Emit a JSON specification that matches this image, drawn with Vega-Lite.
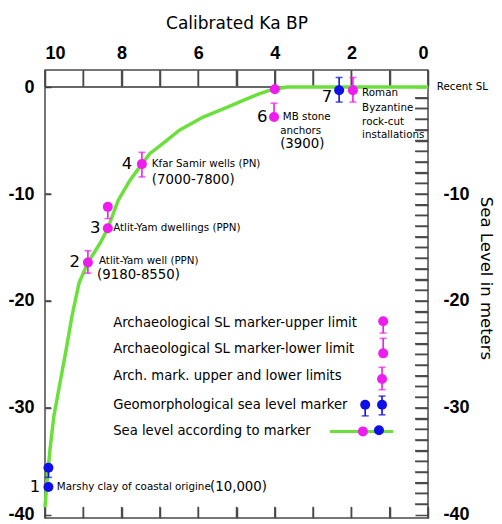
{
  "$schema": "https://vega.github.io/schema/vega-lite/v6.json",
  "autosize": {"type": "none"},
  "width": 383,
  "height": 448,
  "padding": {"left": 45, "top": 70, "right": 74, "bottom": 6},
  "background": "white",
  "config": {
    "view": {"stroke": "#4a4a4a", "strokeWidth": 1.5},
    "axis": {"grid": false, "domain": false, "labelColor": "black", "titleColor": "black"}
  },
  "datasets": {
    "frameTicks": [
      {"side": "top", "ka": 0, "sl": 0.84}, {"side": "top", "ka": 1, "sl": 0.84}, {"side": "top", "ka": 2, "sl": 0.84}, {"side": "top", "ka": 3, "sl": 0.84},
      {"side": "top", "ka": 4, "sl": 0.84}, {"side": "top", "ka": 5, "sl": 0.84}, {"side": "top", "ka": 6, "sl": 0.84}, {"side": "top", "ka": 7, "sl": 0.84},
      {"side": "top", "ka": 8, "sl": 0.84}, {"side": "top", "ka": 9, "sl": 0.84}, {"side": "top", "ka": 10, "sl": 0.84},
      {"side": "bottom", "ka": 0, "sl": -39.77}, {"side": "bottom", "ka": 1, "sl": -39.77}, {"side": "bottom", "ka": 2, "sl": -39.77}, {"side": "bottom", "ka": 3, "sl": -39.77},
      {"side": "bottom", "ka": 4, "sl": -39.77}, {"side": "bottom", "ka": 5, "sl": -39.77}, {"side": "bottom", "ka": 6, "sl": -39.77}, {"side": "bottom", "ka": 7, "sl": -39.77},
      {"side": "bottom", "ka": 8, "sl": -39.77}, {"side": "bottom", "ka": 9, "sl": -39.77}, {"side": "bottom", "ka": 10, "sl": -39.77},
      {"side": "left", "ka": 9.92, "sl": -10}, {"side": "left", "ka": 9.92, "sl": -20}, {"side": "left", "ka": 9.92, "sl": -30},
      {"side": "right", "ka": 0.17, "sl": -1}, {"side": "right", "ka": 0.17, "sl": -2}, {"side": "right", "ka": 0.17, "sl": -3}, {"side": "right", "ka": 0.17, "sl": -4},
      {"side": "right", "ka": 0.17, "sl": -5}, {"side": "right", "ka": 0.17, "sl": -6}, {"side": "right", "ka": 0.17, "sl": -7}, {"side": "right", "ka": 0.17, "sl": -8},
      {"side": "right", "ka": 0.17, "sl": -9}, {"side": "right", "ka": 0.17, "sl": -10}, {"side": "right", "ka": 0.17, "sl": -11}, {"side": "right", "ka": 0.17, "sl": -12},
      {"side": "right", "ka": 0.17, "sl": -13}, {"side": "right", "ka": 0.17, "sl": -14}, {"side": "right", "ka": 0.17, "sl": -15}, {"side": "right", "ka": 0.17, "sl": -16},
      {"side": "right", "ka": 0.17, "sl": -17}, {"side": "right", "ka": 0.17, "sl": -18}, {"side": "right", "ka": 0.17, "sl": -19}, {"side": "right", "ka": 0.17, "sl": -20},
      {"side": "right", "ka": 0.17, "sl": -21}, {"side": "right", "ka": 0.17, "sl": -22}, {"side": "right", "ka": 0.17, "sl": -23}, {"side": "right", "ka": 0.17, "sl": -24},
      {"side": "right", "ka": 0.17, "sl": -25}, {"side": "right", "ka": 0.17, "sl": -26}, {"side": "right", "ka": 0.17, "sl": -27}, {"side": "right", "ka": 0.17, "sl": -28},
      {"side": "right", "ka": 0.17, "sl": -29}, {"side": "right", "ka": 0.17, "sl": -30}, {"side": "right", "ka": 0.17, "sl": -31}, {"side": "right", "ka": 0.17, "sl": -32},
      {"side": "right", "ka": 0.17, "sl": -33}, {"side": "right", "ka": 0.17, "sl": -34}, {"side": "right", "ka": 0.17, "sl": -35}, {"side": "right", "ka": 0.17, "sl": -36},
      {"side": "right", "ka": 0.17, "sl": -37}, {"side": "right", "ka": 0.17, "sl": -38}, {"side": "right", "ka": 0.17, "sl": -39}
    ],
    "curve": [
      {"ka": 10.0, "sl": -39.3}, {"ka": 9.95, "sl": -37.0}, {"ka": 9.87, "sl": -33.9}, {"ka": 9.77, "sl": -30.8},
      {"ka": 9.61, "sl": -27.7}, {"ka": 9.45, "sl": -24.6}, {"ka": 9.30, "sl": -21.5}, {"ka": 9.11, "sl": -18.3},
      {"ka": 8.88, "sl": -16.4}, {"ka": 8.56, "sl": -14.6}, {"ka": 8.36, "sl": -13.2}, {"ka": 8.09, "sl": -10.6},
      {"ka": 7.78, "sl": -8.7}, {"ka": 7.47, "sl": -7.2}, {"ka": 7.26, "sl": -6.2}, {"ka": 7.0, "sl": -5.5},
      {"ka": 6.48, "sl": -4.0}, {"ka": 5.87, "sl": -2.8}, {"ka": 5.25, "sl": -1.9}, {"ka": 4.73, "sl": -1.1},
      {"ka": 4.39, "sl": -0.6}, {"ka": 4.18, "sl": -0.35}, {"ka": 4.0, "sl": -0.2}, {"ka": 3.68, "sl": 0},
      {"ka": 0, "sl": 0}
    ],
    "keyline": [{"ka": 2.56, "sl": -32.2}, {"ka": 0.91, "sl": -32.2}],
    "zero": [{"ka": 10, "ka2": 0, "sl": 0}],
    "pts": [
      {"ka": 9.91, "sl": -37.4, "kind": "geo"},
      {"ka": 9.91, "sl": -35.6, "kind": "geo"},
      {"ka": 8.88, "sl": -16.4, "kind": "arch"},
      {"ka": 8.36, "sl": -13.2, "kind": "arch"},
      {"ka": 8.36, "sl": -11.2, "kind": "arch"},
      {"ka": 7.47, "sl": -7.2, "kind": "arch"},
      {"ka": 4.0, "sl": -0.2, "kind": "arch"},
      {"ka": 4.02, "sl": -2.8, "kind": "arch"},
      {"ka": 2.32, "sl": -0.3, "kind": "geo"},
      {"ka": 1.96, "sl": -0.3, "kind": "arch"},
      {"ka": 1.17, "sl": -21.9, "kind": "arch"},
      {"ka": 1.17, "sl": -24.9, "kind": "arch"},
      {"ka": 1.2, "sl": -27.3, "kind": "arch"},
      {"ka": 1.64, "sl": -29.7, "kind": "geo"},
      {"ka": 1.2, "sl": -29.7, "kind": "geo"},
      {"ka": 1.7, "sl": -32.2, "kind": "arch"},
      {"ka": 1.28, "sl": -32.1, "kind": "geo"}
    ],
    "errbars": [
      {"ka": 9.91, "sl": -35.6, "to": -36.5, "kind": "geo"},
      {"ka": 8.88, "sl": -16.4, "to": -15.3, "kind": "arch"},
      {"ka": 8.88, "sl": -16.4, "to": -17.4, "kind": "arch"},
      {"ka": 8.36, "sl": -11.2, "to": -12.3, "kind": "arch"},
      {"ka": 7.47, "sl": -7.2, "to": -6.1, "kind": "arch"},
      {"ka": 7.47, "sl": -7.2, "to": -8.4, "kind": "arch"},
      {"ka": 4.02, "sl": -2.8, "to": -1.5, "kind": "arch"},
      {"ka": 2.32, "sl": -0.3, "to": 0.9, "kind": "geo"},
      {"ka": 2.32, "sl": -0.3, "to": -1.4, "kind": "geo"},
      {"ka": 1.96, "sl": -0.3, "to": 0.9, "kind": "arch"},
      {"ka": 1.96, "sl": -0.3, "to": -1.4, "kind": "arch"},
      {"ka": 1.17, "sl": -21.9, "to": -23.0, "kind": "arch"},
      {"ka": 1.17, "sl": -24.9, "to": -23.5, "kind": "arch"},
      {"ka": 1.2, "sl": -27.3, "to": -26.2, "kind": "arch"},
      {"ka": 1.2, "sl": -27.3, "to": -28.3, "kind": "arch"},
      {"ka": 1.64, "sl": -29.7, "to": -30.75, "kind": "geo"},
      {"ka": 1.2, "sl": -29.7, "to": -28.9, "kind": "geo"},
      {"ka": 1.2, "sl": -29.7, "to": -30.65, "kind": "geo"}
    ],
    "notes": [
      {"t": "1", "ka": 10.26, "sl": -37.4, "role": "num"},
      {"t": "2", "ka": 9.22, "sl": -16.4, "role": "num"},
      {"t": "3", "ka": 8.69, "sl": -13.2, "role": "num"},
      {"t": "4", "ka": 7.86, "sl": -7.2, "role": "num"},
      {"t": "6", "ka": 4.33, "sl": -2.8, "role": "num"},
      {"t": "7", "ka": 2.64, "sl": -0.9, "role": "num"},
      {"t": "Marshy clay of coastal origine", "ka": 9.69, "sl": -37.4, "role": "small"},
      {"t": "Atlit-Yam well (PPN)", "ka": 8.59, "sl": -16.3, "role": "small"},
      {"t": "Atlit-Yam dwellings (PPN)", "ka": 8.22, "sl": -13.2, "role": "small"},
      {"t": "Kfar Samir wells (PN)", "ka": 7.21, "sl": -7.2, "role": "small"},
      {"t": "MB stone", "ka": 3.79, "sl": -2.8, "role": "small"},
      {"t": "anchors", "ka": 3.86, "sl": -4.1, "role": "small"},
      {"t": "Roman", "ka": 1.72, "sl": -0.56, "role": "small"},
      {"t": "Byzantine", "ka": 1.72, "sl": -1.96, "role": "small"},
      {"t": "rock-cut", "ka": 1.72, "sl": -3.27, "role": "small"},
      {"t": "installations", "ka": 1.72, "sl": -4.49, "role": "small"},
      {"t": "Recent SL", "ka": -0.23, "sl": 0.05, "role": "small"},
      {"t": "(10,000)", "ka": 5.69, "sl": -37.4, "role": "paren"},
      {"t": "(9180-8550)", "ka": 8.64, "sl": -17.6, "role": "paren"},
      {"t": "(7000-7800)", "ka": 7.21, "sl": -8.7, "role": "paren"},
      {"t": "(3900)", "ka": 3.86, "sl": -5.3, "role": "paren"},
      {"t": "Archaeological SL marker-upper limit", "ka": 8.22, "sl": -22.06, "role": "legend"},
      {"t": "Archaeological SL marker-lower limit", "ka": 8.22, "sl": -24.49, "role": "legend"},
      {"t": "Arch. mark. upper and lower limits", "ka": 8.22, "sl": -27.01, "role": "legend"},
      {"t": "Geomorphological sea level marker", "ka": 8.22, "sl": -29.72, "role": "legend"},
      {"t": "Sea level according to marker", "ka": 8.22, "sl": -32.15, "role": "legend"}
    ]
  },
  "encoding": {
    "x": {"field": "ka", "type": "quantitative", "scale": {"domain": [0, 10], "reverse": true, "nice": false, "zero": false}, "axis": null},
    "y": {"field": "sl", "type": "quantitative", "scale": {"domain": [-40.3, 1.6], "nice": false, "zero": false}, "axis": null}
  },
  "layer": [
    {
      "data": {"name": "frameTicks"},
      "transform": [{"filter": "datum.side == 'top'"}],
      "mark": {"type": "tick", "orient": "vertical", "size": 16, "thickness": 1.5, "color": "#4a4a4a", "opacity": 1}
    },
    {
      "data": {"name": "frameTicks"},
      "transform": [{"filter": "datum.side == 'bottom'"}],
      "mark": {"type": "tick", "orient": "vertical", "size": 11, "thickness": 1.5, "color": "#4a4a4a", "opacity": 1}
    },
    {
      "data": {"name": "frameTicks"},
      "transform": [{"filter": "datum.side == 'right'"}],
      "mark": {"type": "tick", "orient": "horizontal", "size": 13, "thickness": 1.5, "color": "#4a4a4a", "opacity": 1}
    },
    {
      "data": {"name": "frameTicks"},
      "transform": [{"filter": "datum.side == 'left'"}],
      "mark": {"type": "tick", "orient": "horizontal", "size": 6, "thickness": 1.5, "color": "#4a4a4a", "opacity": 1}
    },
    {
      "data": {"name": "zero"},
      "mark": {"type": "rule", "color": "#333333", "strokeWidth": 1.5},
      "encoding": {"x2": {"field": "ka2"}}
    },
    {
      "data": {"name": "curve"},
      "mark": {"type": "line", "color": "#6be03c", "strokeWidth": 3.5, "interpolate": "linear"},
      "encoding": {
        "x": {"field": "ka", "type": "quantitative", "scale": {"domain": [0, 10], "reverse": true, "nice": false, "zero": false},
          "axis": {"orient": "top", "values": [0, 1, 2, 3, 4, 5, 6, 7, 8, 9, 10], "labelExpr": "datum.value % 2 == 0 ? datum.label : ''",
            "ticks": true, "tickColor": "#4a4a4a", "tickWidth": 1.5, "tickOpacity": 1,
            "offset": -16, "tickSize": 16, "labelPadding": 8, "labelFont": "Liberation Sans", "labelFontWeight": "bold", "labelFontSize": 18,
            "title": "Calibrated Ka BP", "titleFont": "DejaVu Sans", "titleFontSize": 17, "titleFontWeight": "normal", "titlePadding": 12}},
        "y": {"field": "sl", "type": "quantitative", "scale": {"domain": [-40.3, 1.6], "nice": false, "zero": false},
          "axis": {"orient": "left", "values": [0, -10, -20, -30, -40], "labelExpr": "'' + datum.value",
            "ticks": true, "tickColor": "#4a4a4a", "tickWidth": 1.5, "tickOpacity": 1,
            "offset": -6, "tickSize": 6, "labelPadding": 11,
            "labelFont": "Liberation Sans", "labelFontWeight": "bold", "labelFontSize": 18, "title": null}}
      }
    },
    {
      "data": {"name": "keyline"},
      "mark": {"type": "line", "color": "#6be03c", "strokeWidth": 3},
      "encoding": {}
    },
    {
      "data": {"name": "errbars"},
      "mark": {"type": "rule", "strokeWidth": 1.6},
      "encoding": {
        "y2": {"field": "to"},
        "color": {"field": "kind", "type": "nominal", "scale": {"domain": ["arch", "geo"], "range": ["#ef1cef", "#1010e6"]}, "legend": null}
      }
    },
    {
      "data": {"name": "errbars"},
      "mark": {"type": "tick", "orient": "horizontal", "size": 7, "thickness": 1.6},
      "encoding": {
        "y": {"field": "to", "type": "quantitative", "scale": {"domain": [-40.3, 1.6], "nice": false, "zero": false}, "axis": null},
        "color": {"field": "kind", "type": "nominal", "scale": {"domain": ["arch", "geo"], "range": ["#ef1cef", "#1010e6"]}, "legend": null}
      }
    },
    {
      "data": {"name": "pts"},
      "mark": {"type": "circle", "size": 100, "opacity": 1},
      "encoding": {
        "x": {"field": "ka", "type": "quantitative", "scale": {"domain": [0, 10], "reverse": true, "nice": false, "zero": false},
          "axis": {"orient": "bottom", "values": [0, 1, 2, 3, 4, 5, 6, 7, 8, 9, 10],
            "ticks": true, "tickColor": "#4a4a4a", "tickWidth": 1.5, "tickOpacity": 1,
            "offset": -11, "tickSize": 11, "labels": false, "title": null}},
        "y": {"field": "sl", "type": "quantitative", "scale": {"domain": [-40.3, 1.6], "nice": false, "zero": false},
          "axis": {"orient": "right", "values": [0, -1, -2, -3, -4, -5, -6, -7, -8, -9, -10, -11, -12, -13, -14, -15, -16, -17, -18, -19, -20, -21, -22, -23, -24, -25, -26, -27, -28, -29, -30, -31, -32, -33, -34, -35, -36, -37, -38, -39, -40],
            "labelExpr": "datum.value % 10 == 0 && datum.value != 0 ? '' + datum.value : ''",
            "ticks": true, "tickColor": "#4a4a4a", "tickWidth": 1.5, "tickOpacity": 1,
            "offset": -13, "tickSize": 13, "labelPadding": 15, "labelFont": "Liberation Sans", "labelFontWeight": "bold", "labelFontSize": 18,
            "title": "Sea Level in meters", "titleFont": "DejaVu Sans", "titleFontSize": 16.5, "titleFontWeight": "normal", "titlePadding": 8, "titleY": 208}},
        "color": {"field": "kind", "type": "nominal", "scale": {"domain": ["arch", "geo"], "range": ["#ef1cef", "#1010e6"]}, "legend": null}
      }
    },
    {
      "data": {"name": "notes"},
      "transform": [{"filter": "datum.role == 'num'"}],
      "mark": {"type": "text", "font": "DejaVu Sans", "fontSize": 16.5, "align": "center", "baseline": "middle", "color": "black"},
      "encoding": {"text": {"field": "t"}}
    },
    {
      "data": {"name": "notes"},
      "transform": [{"filter": "datum.role == 'small'"}],
      "mark": {"type": "text", "font": "DejaVu Sans", "fontSize": 10.3, "align": "left", "baseline": "middle", "color": "black"},
      "encoding": {"text": {"field": "t"}}
    },
    {
      "data": {"name": "notes"},
      "transform": [{"filter": "datum.role == 'paren'"}],
      "mark": {"type": "text", "font": "DejaVu Sans", "fontSize": 13.3, "align": "left", "baseline": "middle", "color": "black"},
      "encoding": {"text": {"field": "t"}}
    },
    {
      "data": {"name": "notes"},
      "transform": [{"filter": "datum.role == 'legend'"}],
      "mark": {"type": "text", "font": "DejaVu Sans", "fontSize": 13.2, "align": "left", "baseline": "middle", "color": "black"},
      "encoding": {"text": {"field": "t"}}
    }
  ],
  "resolve": {"axis": {"x": "independent", "y": "independent"}}
}
